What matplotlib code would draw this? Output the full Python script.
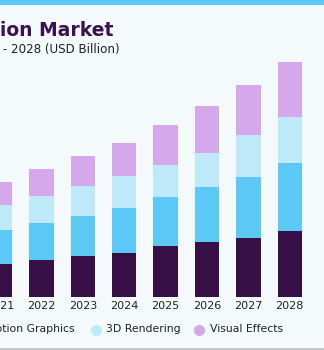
import matplotlib
matplotlib.use("Agg")
import matplotlib.pyplot as plt
from matplotlib.lines import Line2D
from matplotlib.patches import Rectangle
import numpy as np

years = ["2021", "2022", "2023", "2024", "2025", "2026", "2027", "2028"]
modeling = [33.0, 36.5, 40.5, 44.0, 50.5, 55.0, 59.0, 65.5]
motion = [33.3, 36.7, 40.3, 44.4, 49.0, 55.0, 60.6, 68.3]
rendering = [25.0, 27.6, 30.0, 32.6, 32.0, 34.0, 41.7, 46.0]
vfx = [23.3, 26.4, 29.7, 32.7, 40.0, 46.7, 50.0, 55.0]
series_names = ["3D Modeling", "Motion Graphics", "3D Rendering", "Visual Effects"]
colors = ["#381048", "#5bc8f5", "#bde9f9", "#d4a8ea"]
title = "U.S. 3D Animation Market"
subtitle = "size, by technology, 2016 - 2028 (USD Billion)"

W, H = 324, 350
fig = plt.figure(figsize=(W / 100, H / 100), dpi=100)
bg = "#f4f9fc"
fig.patch.set_facecolor(bg)

bottom_px = 296.5
ax = fig.add_axes([0, (H - bottom_px) / H, 1, bottom_px / H])
ax.set_facecolor(bg)
x = np.arange(len(years))
base = np.zeros(len(years))
for vals, c in zip([modeling, motion, rendering, vfx], colors):
    ax.bar(x, vals, bottom=base, width=0.585, color=c, linewidth=0)
    base += np.array(vals)
ax.set_xlim(0.093, 7.826)
ax.set_ylim(0, bottom_px)
ax.set_xticks(x)
ax.set_xticklabels(years)
ax.tick_params(axis="x", length=0, pad=3.5, labelsize=8, labelcolor="#222222")
ax.set_yticks([])
for s in ax.spines.values():
    s.set_visible(False)
for lbl in ax.get_xticklabels():
    lbl.set_family("DejaVu Sans")

def fx(px):
    return px / W

def fy(py):
    return 1 - py / H

# top and bottom bands
fig.patches.append(Rectangle((0, fy(5)), 1, 5 / H, transform=fig.transFigure,
                             facecolor="#5bc8f5", edgecolor="none", zorder=5))
fig.patches.append(Rectangle((0, 0), 1, 2 / H, transform=fig.transFigure,
                             facecolor="#c8c8c8", edgecolor="none", zorder=5))

fig.text(fx(113), fy(30), title, ha="right", va="center", fontsize=13.5,
         fontweight="heavy", color="#3b1152", family="DejaVu Sans")
fig.text(fx(120), fy(49), subtitle, ha="right", va="center", fontsize=8.6,
         color="#222222", family="DejaVu Sans")

# legend
ly = fy(329.5)
items = [(series_names[0], -180, -170), (series_names[1], -15, -5),
         (series_names[2], 95.7, 106), (series_names[3], 199.3, 209.7)]
for (name, cx, tx), c in zip(items, colors):
    fig.lines.append(Line2D([fx(cx)], [ly], transform=fig.transFigure, marker="o",
                            markersize=7, color=c, linestyle="none"))
    if name == series_names[1]:
        fig.text(fx(75), ly, name, ha="right", va="center", fontsize=7.8,
                 color="#222222", family="DejaVu Sans")
    else:
        fig.text(fx(tx), ly, name, ha="left", va="center", fontsize=7.8,
                 color="#222222", family="DejaVu Sans")

fig.savefig("out.png", dpi=100, facecolor=bg)
